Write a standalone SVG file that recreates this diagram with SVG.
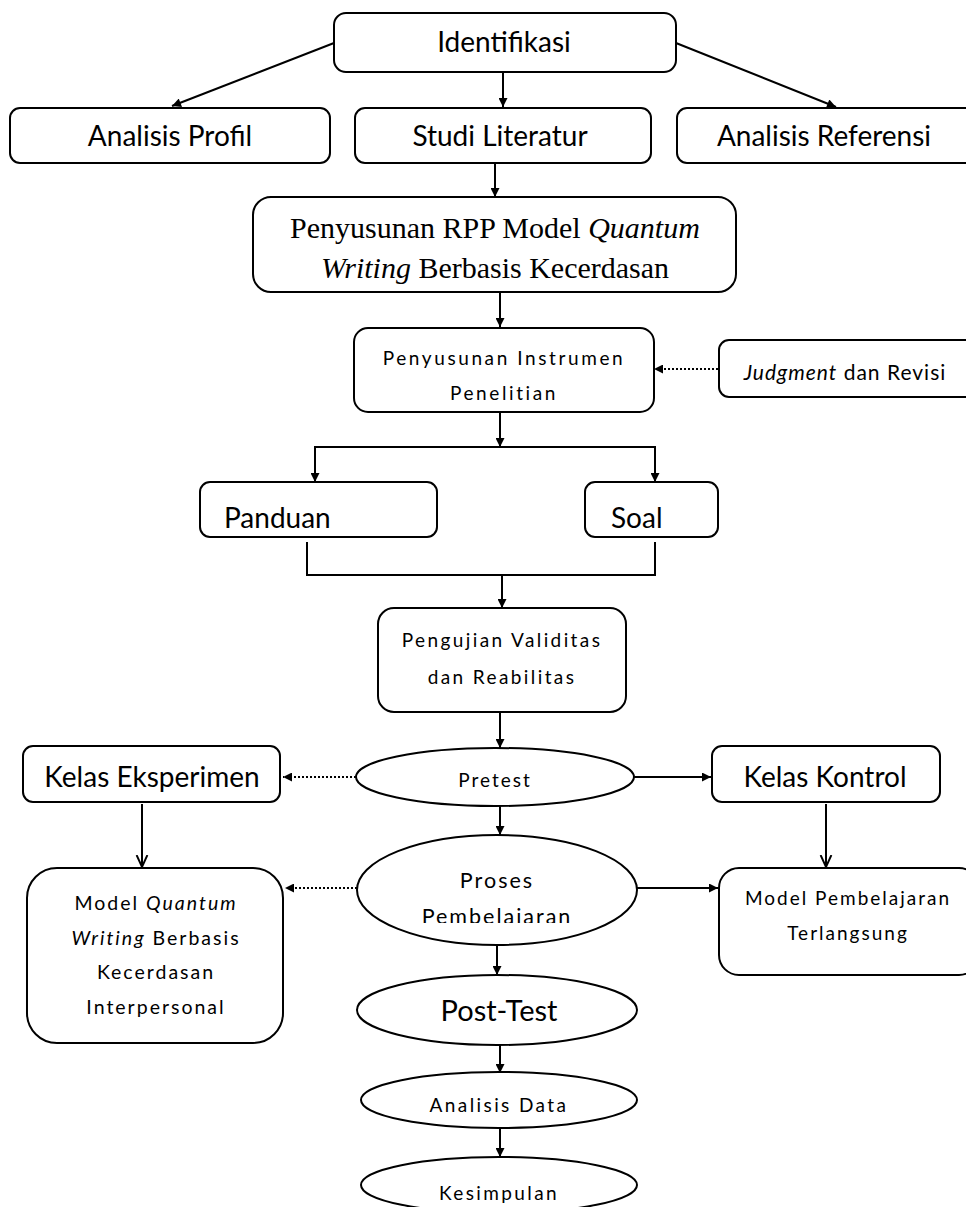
<svg xmlns="http://www.w3.org/2000/svg" width="966" height="1207" viewBox="0 0 966 1207">
<defs>
<style>
.box{fill:#fff;stroke:#000;stroke-width:2}
.t{font-family:Lato,"Open Sans","Liberation Sans",sans-serif;fill:#000;text-anchor:middle}
.tr{font-family:"Liberation Serif","Times New Roman",serif;fill:#000;text-anchor:middle}
.c{stroke:#000;stroke-width:2;fill:none}
.d{stroke:#000;stroke-width:2;fill:none;stroke-dasharray:2 2}
</style>
<marker id="ah" viewBox="0 0 10 10" refX="10" refY="5" markerWidth="10" markerHeight="9" orient="auto" markerUnits="userSpaceOnUse">
<path d="M0,0 L10,5 L0,10 z" fill="#000"/>
</marker>
<marker id="av" viewBox="0 0 10 10" refX="10" refY="5" markerWidth="12" markerHeight="14" orient="auto" markerUnits="userSpaceOnUse">
<path d="M0,0.5 L10,5 L0,9.5" fill="none" stroke="#000" stroke-width="1.6"/>
</marker>
<clipPath id="pclip"><rect x="300" y="830" width="400" height="93"/></clipPath>
</defs>

<g id="connectors">
<line class="c" x1="334" y1="43" x2="172" y2="106" marker-end="url(#ah)"/>
<line class="c" x1="503" y1="72" x2="503" y2="107" marker-end="url(#ah)"/>
<line class="c" x1="676" y1="43" x2="836" y2="107" marker-end="url(#ah)"/>
<line class="c" x1="495" y1="163" x2="495" y2="197" marker-end="url(#ah)"/>
<line class="c" x1="500" y1="292" x2="500" y2="327" marker-end="url(#ah)"/>
<line class="d" x1="718" y1="369" x2="654" y2="369" marker-end="url(#ah)"/>
<line class="c" x1="500" y1="412" x2="500" y2="447" marker-end="url(#ah)"/>
<polyline class="c" points="315,470 315,447 655,447 655,470"/>
<line class="c" x1="315" y1="450" x2="315" y2="482" marker-end="url(#ah)"/>
<line class="c" x1="655" y1="450" x2="655" y2="482" marker-end="url(#ah)"/>
<polyline class="c" points="307,542 307,575 655,575 655,542"/>
<line class="c" x1="502" y1="575" x2="502" y2="608" marker-end="url(#ah)"/>
<line class="c" x1="500" y1="712" x2="500" y2="748" marker-end="url(#ah)"/>
<line class="d" x1="356" y1="777" x2="283" y2="777" marker-end="url(#ah)"/>
<line class="c" x1="634" y1="777" x2="711" y2="777" stroke-width="3" marker-end="url(#ah)"/>
<line class="c" x1="500" y1="806" x2="500" y2="835" marker-end="url(#ah)"/>
<line class="c" x1="142" y1="804" x2="142" y2="867" marker-end="url(#av)"/>
<line class="c" x1="826" y1="804" x2="826" y2="867" marker-end="url(#av)"/>
<line class="d" x1="357" y1="888" x2="285" y2="888" marker-end="url(#ah)"/>
<line class="c" x1="637" y1="888" x2="718" y2="888" stroke-width="3" marker-end="url(#ah)"/>
<line class="c" x1="497" y1="945" x2="497" y2="975" marker-end="url(#ah)"/>
<line class="c" x1="500" y1="1045" x2="500" y2="1073" marker-end="url(#ah)"/>
<line class="c" x1="500" y1="1128" x2="500" y2="1157" marker-end="url(#ah)"/>
</g>

<g id="identifikasi">
<rect class="box" x="334" y="13" width="342" height="59" rx="12"/>
<text class="t" x="504" y="52" font-size="28">Identifikasi</text>
</g>
<g id="analisis-profil">
<rect class="box" x="10" y="108" width="320" height="55" rx="10"/>
<text class="t" x="170" y="146" font-size="28">Analisis Profil</text>
</g>
<g id="studi-literatur">
<rect class="box" x="355" y="108" width="296" height="55" rx="10"/>
<text class="t" x="500" y="146" font-size="28">Studi Literatur</text>
</g>
<g id="analisis-referensi">
<rect class="box" x="677" y="108" width="300" height="55" rx="10"/>
<text class="t" x="824" y="146" font-size="28">Analisis Referensi</text>
</g>
<g id="penyusunan-rpp">
<rect class="box" x="253" y="197" width="483" height="95" rx="18"/>
<text class="tr" x="495" y="238" font-size="30">Penyusunan RPP Model <tspan font-style="italic">Quantum</tspan></text>
<text class="tr" x="495" y="278" font-size="30"><tspan font-style="italic">Writing</tspan> Berbasis Kecerdasan</text>
</g>
<g id="penyusunan-instrumen">
<rect class="box" x="354" y="328" width="300" height="84" rx="14"/>
<text class="t" x="504" y="365" font-size="19" letter-spacing="2.6">Penyusunan Instrumen</text>
<text class="t" x="504" y="400" font-size="19" letter-spacing="2.6">Penelitian</text>
</g>
<g id="judgment">
<rect class="box" x="719" y="340" width="260" height="57" rx="10"/>
<text class="t" x="845" y="380" font-size="21" letter-spacing="1"><tspan font-style="italic">Judgment</tspan> dan Revisi</text>
</g>
<g id="panduan">
<rect class="box" x="200" y="482" width="237" height="55" rx="10"/>
<text class="t" x="224" y="528" font-size="28" style="text-anchor:start">Panduan</text>
</g>
<g id="soal">
<rect class="box" x="585" y="482" width="133" height="55" rx="10"/>
<text class="t" x="611" y="528" font-size="28" style="text-anchor:start">Soal</text>
</g>
<g id="pengujian">
<rect class="box" x="378" y="608" width="248" height="104" rx="16"/>
<text class="t" x="502" y="647" font-size="19" letter-spacing="2.4">Pengujian Validitas</text>
<text class="t" x="502" y="684" font-size="19" letter-spacing="2.4">dan Reabilitas</text>
</g>
<g id="pretest">
<ellipse class="box" cx="495" cy="777" rx="139" ry="29"/>
<text class="t" x="495" y="787" font-size="19" letter-spacing="2">Pretest</text>
</g>
<g id="kelas-eksperimen">
<rect class="box" x="23" y="746" width="257" height="56" rx="10"/>
<text class="t" x="152" y="787" font-size="28">Kelas Eksperimen</text>
</g>
<g id="kelas-kontrol">
<rect class="box" x="712" y="746" width="228" height="56" rx="10"/>
<text class="t" x="825" y="787" font-size="28">Kelas Kontrol</text>
</g>
<g id="proses">
<ellipse class="box" cx="497" cy="890" rx="140" ry="55"/>
<text class="t" x="497" y="888" font-size="21.5" letter-spacing="2">Proses</text>
<text class="t" x="497" y="924" font-size="21.5" letter-spacing="2" clip-path="url(#pclip)">Pembelajaran</text>
</g>
<g id="model-quantum">
<rect class="box" x="27" y="868" width="256" height="175" rx="30"/>
<text class="t" x="156" y="910" font-size="19.5" letter-spacing="2">Model <tspan font-style="italic">Quantum</tspan></text>
<text class="t" x="156" y="945" font-size="19.5" letter-spacing="2"><tspan font-style="italic">Writing</tspan> Berbasis</text>
<text class="t" x="156" y="979" font-size="19.5" letter-spacing="2">Kecerdasan</text>
<text class="t" x="156" y="1014" font-size="19.5" letter-spacing="2">Interpersonal</text>
</g>
<g id="model-pembelajaran">
<rect class="box" x="719" y="868" width="260" height="107" rx="20"/>
<text class="t" x="848" y="905" font-size="19" letter-spacing="2">Model Pembelajaran</text>
<text class="t" x="848" y="940" font-size="19" letter-spacing="2">Terlangsung</text>
</g>
<g id="post-test">
<ellipse class="box" cx="497" cy="1010" rx="140" ry="35"/>
<text class="t" x="499" y="1021" font-size="29">Post-Test</text>
</g>
<g id="analisis-data">
<ellipse class="box" cx="499" cy="1100" rx="138" ry="28"/>
<text class="t" x="499" y="1112" font-size="19" letter-spacing="2.4">Analisis Data</text>
</g>
<g id="kesimpulan">
<ellipse class="box" cx="499" cy="1185" rx="138" ry="28"/>
<text class="t" x="499" y="1200" font-size="19" letter-spacing="2.4">Kesimpulan</text>
</g>
</svg>
